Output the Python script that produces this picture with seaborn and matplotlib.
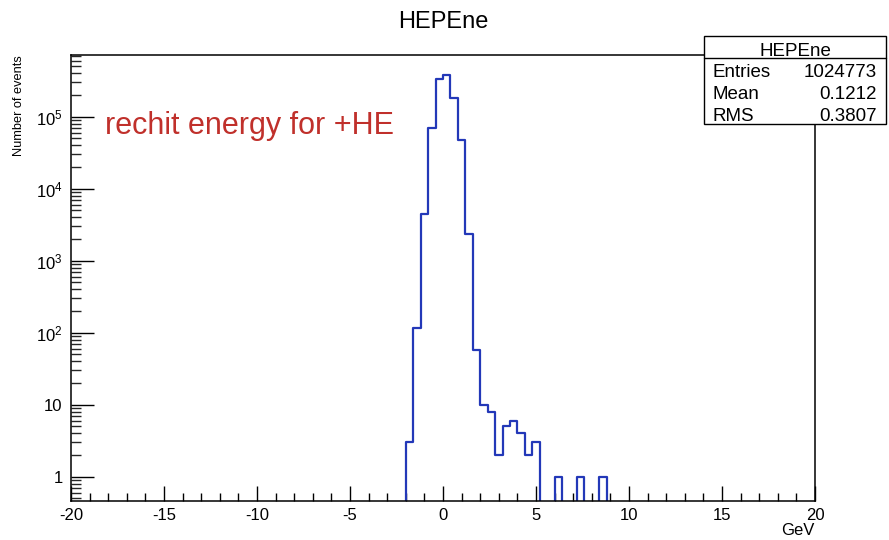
import numpy as np
import pandas as pd
import seaborn as sns
import matplotlib
matplotlib.use("Agg")
import matplotlib.pyplot as plt
from matplotlib.patches import Rectangle
from matplotlib.lines import Line2D
from matplotlib.ticker import FixedLocator, FuncFormatter, LogLocator, MultipleLocator

# ---- data ----
x_range = (-20.0, 20.0)
n_bins = 100
# centres of the non-empty 0.4 GeV bins and their counts
bin_centers = [-1.8, -1.4, -1.0, -0.6, -0.2, 0.2, 0.6, 1.0, 1.4, 1.8,
               2.2, 2.6, 3.0, 3.4, 3.8, 4.2, 4.6, 5.0, 6.2, 7.4, 8.6]
bin_counts = [3, 115, 4450, 69700, 330000, 376000, 180000, 47500, 2350, 58,
              10, 8, 2, 5, 6, 4, 2, 3, 1, 1, 1]
hist_title = "HEPEne"
stat_names = ["Entries", "Mean", "RMS"]
stat_values = ["1024773", "0.1212", "0.3807"]
x_ticks = [-20, -15, -10, -5, 0, 5, 10, 15, 20]
y_ticks = [1, 10, 100, 1000, 10000, 100000]

df = pd.DataFrame({"energy": bin_centers, "count": bin_counts})

sns.set_theme(style="white")
plt.rcParams["font.family"] = ["Liberation Sans", "DejaVu Sans"]
plt.rcParams["mathtext.fontset"] = "custom"
plt.rcParams["mathtext.rm"] = "Liberation Sans"
plt.rcParams["mathtext.it"] = "Liberation Sans"

W, H = 889, 540
fig = plt.figure(figsize=(W / 100, H / 100), dpi=100)
fig.patch.set_facecolor("white")

L, R, T, B = 71, 815, 55, 501
ax = fig.add_axes([L / W, 1 - B / H, (R - L) / W, (B - T) / H])
ax.set_facecolor("white")

sns.histplot(data=df, x="energy", weights="count", bins=n_bins,
             binrange=x_range, element="step", fill=False,
             color="#2338b8", linewidth=1.6, ax=ax)
ax.set_yscale("log")
ax.set_xlim(*x_range)
ax.set_ylim(0.46, 7.2e5)

for s in ax.spines.values():
    s.set_color("black")
    s.set_linewidth(1.1)
    s.set_visible(True)

ax.xaxis.set_major_locator(FixedLocator(x_ticks))
ax.xaxis.set_minor_locator(MultipleLocator(1))
ax.yaxis.set_major_locator(FixedLocator(y_ticks))
ax.yaxis.set_minor_locator(LogLocator(base=10, subs=np.arange(2, 10), numticks=20))

def yfmt(v, pos):
    if v <= 1.5:
        return "1"
    if v <= 15:
        return "10"
    return r"$10^{%d}$" % int(round(np.log10(v)))

ax.yaxis.set_major_formatter(FuncFormatter(yfmt))
ax.xaxis.set_major_formatter(FuncFormatter(lambda v, p: "%d" % v))

ax.tick_params(axis="x", which="major", direction="in", length=10.8, width=1.0,
               labelsize=12, pad=5, top=False, bottom=True, colors="black")
ax.tick_params(axis="x", which="minor", direction="in", length=5.5, width=1.0,
               top=False, bottom=True, colors="black")
ax.tick_params(axis="y", which="major", direction="in", length=16.5, width=1.0,
               labelsize=12, pad=6, left=True, right=False, colors="black")
ax.tick_params(axis="y", which="minor", direction="in", length=7.2, width=1.0,
               left=True, right=False)
ax.set_xlabel("")
ax.set_ylabel("")
ax.grid(False)

def fx(px):
    return px / W

def fy(py):
    return 1 - py / H

# title
fig.text(fx(443), fy(28), hist_title, ha="center", va="baseline",
         fontsize=17, color="black")
# axis titles
fig.text(fx(815), fy(535), "GeV", ha="right", va="baseline",
         fontsize=12, color="black")
fig.text(fx(19), fy(55), "Number of events", ha="center", va="top",
         rotation=90, fontsize=9.2, color="black")
# annotation
fig.text(fx(105), fy(134), "rechit energy for +HE", ha="left", va="baseline",
         fontsize=22, color="#c0302b")

# stats box
bx0, bx1, by0, by1, bsep = 704, 886, 36, 124, 57.5
fig.add_artist(Rectangle((fx(bx0), fy(by1)), fx(bx1) - fx(bx0), fy(by0) - fy(by1),
                         transform=fig.transFigure, facecolor="white",
                         edgecolor="black", linewidth=1.0, zorder=10))
fig.add_artist(Line2D([fx(bx0), fx(bx1)], [fy(bsep), fy(bsep)],
                      transform=fig.transFigure, color="black",
                      linewidth=1.0, zorder=11))
fig.text(fx((bx0 + bx1) / 2), fy(55.5), hist_title, ha="center", va="baseline",
         fontsize=13.5, color="black", zorder=12)
for i, (nm, vl) in enumerate(zip(stat_names, stat_values)):
    yb = 77 + 22 * i
    fig.text(fx(712), fy(yb), nm, ha="left", va="baseline", fontsize=13.5,
             color="black", zorder=12)
    fig.text(fx(877), fy(yb), vl, ha="right", va="baseline", fontsize=13.5,
             color="black", zorder=12)

fig.savefig("out.png", dpi=100, facecolor="white")
